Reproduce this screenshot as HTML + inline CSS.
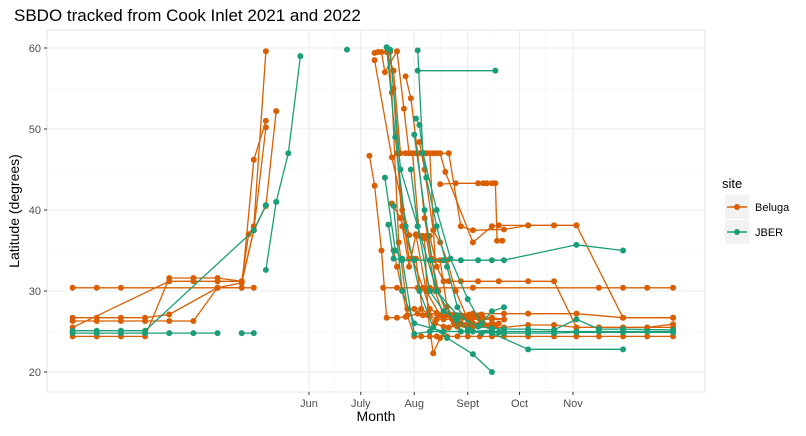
<!DOCTYPE html>
<html><head><meta charset="utf-8">
<style>
body{margin:0;background:#fff;font-family:"Liberation Sans",Arial,sans-serif;}
svg text{font-family:"Liberation Sans",Arial,sans-serif;}
</style></head>
<body>
<svg id="chart" width="806" height="431" xmlns="http://www.w3.org/2000/svg">
<text x="14" y="21" font-size="17" fill="#000">SBDO tracked from Cook Inlet 2021 and 2022</text>
<g id="grid"></g>
<g id="axes"></g>
<g id="marks"></g>
<text x="376" y="421" font-size="14" text-anchor="middle">Month</text>
<text transform="translate(19,211) rotate(-90)" font-size="14" text-anchor="middle">Latitude (degrees)</text>
<g>
<text x="722" y="188" font-size="13">site</text>
<rect x="725" y="195" width="24" height="24" fill="#f2f2f2"/>
<line x1="727" y1="207" x2="747" y2="207" stroke="#D95F02" stroke-width="1.4"/><circle cx="737" cy="207" r="3" fill="#D95F02"/>
<text x="755" y="211" font-size="11">Beluga</text>
<rect x="725" y="220" width="24" height="24" fill="#f2f2f2"/>
<line x1="727" y1="232" x2="747" y2="232" stroke="#1B9E77" stroke-width="1.4"/><circle cx="737" cy="232" r="3" fill="#1B9E77"/>
<text x="755" y="236" font-size="11">JBER</text>
</g>
</svg>
<script>
// ---- data ----
const monthLabels = ["Jun","July","Aug","Sept","Oct","Nov"];
const monthDays = [152,182,213,244,274,305];
const yTicks = [20,30,40,50,60];
const trackSite = ["B","B","B","B","B","J","J","J","J","J",
  "B","B","B","B","B","B","B","B","B","B","B","B","B","B","B","B",
  "J","J","J","J","J","J","J","J","J","J"];
const trackDays = [
  [15,29,43,99,113,120],
  [15,29,43,57,71,99,113,120,127,133],
  [15,29,43,57,71,85,99,113,120,127],
  [15,29,43,57,71,85,99,113,117,120,127],
  [15,71,85,99,113,120,127],
  [15,29,43,57,120,127],
  [15,29,43,57,71,85,99],
  [113,120],
  [127,133,140,147],
  [174],
  [195,203,215,222,247,320,334,348,363],
  [197,201,205,208,212,216,220,224,228,231,247,258,262,279,294,307,334,363],
  [187,190,194,197,203,208,215,226,233,247,265,279,307,334,363],
  [228,237,250,253,255,258,260,261,264],
  [190,192,199,201,206,210,214,218,222,226,230,233,240,250,262,279,294,307,320,334,348,363],
  [194,196,203,207,210,214,219,226,233,240,247,265,279,294,307],
  [198,200,204,209,213,217,221,225,230,238,247,258,265,279,294,307,320,334,348,363],
  [203,206,210,214,218,222,226,230,235,241,247,253,258,265],
  [201,203,206,209,213,217,222,226,232,238,244,251,258,265,279,294,307,320,334,348,363],
  [208,211,215,219,223,227,232,236,242,247,252,258],
  [216,219,224,228,232,237,244,251,258,265],
  [200,205,212,218,222,226,232,238,244,250],
  [219,221,224,228,233,240,247,253,258,262],
  [212,216,220,225,230,234,240,246,252,258],
  [222,225,228,232,238,244,250,256,260],
  [190,200,210,214,220,228,236,245,252],
  [215,260],
  [198,201,206,213,222,230,240,250,258,265,307,334],
  [196,202,206,213,222,240,258,265,279,294,307,320,334,348,363],
  [214,216,220,226,232,238,247,258],
  [215,218,226,234,244,252,258,265],
  [201,206,213,230,244,258,279,334],
  [213,219,226,240,258,265,279,294,307,334,363],
  [197,202,208,216,224,232,247,258],
  [211,215,222,230,238,244,252,262],
  [199,205,215,226,238,250,258,265,279,294,307,320,334,363]
];
const trackLats = [
  [30.4,30.4,30.4,30.4,30.4,30.4],
  [26.7,26.7,26.7,26.7,27.1,30.4,31.0,37.5,40.5,52.2],
  [26.3,26.3,26.3,26.3,26.3,26.3,30.4,30.4,46.2,51.0],
  [24.4,24.4,24.4,24.4,31.6,31.6,31.6,31.2,37.0,38.0,59.6],
  [25.5,31.2,31.2,31.2,31.2,37.5,50.2],
  [25.1,25.1,25.1,25.1,37.5,40.6],
  [24.8,24.8,24.8,24.8,24.8,24.8,24.8],
  [24.8,24.8],
  [32.6,41.0,47.0,59.0],
  [59.8],
  [30.4,30.4,30.4,30.4,30.4,30.4,30.4,30.4,30.4],
  [59.5,57.2,47.0,47.0,47.0,47.0,47.0,47.0,47.0,44.7,36.0,38.0,38.1,38.1,38.1,38.1,26.7,26.7],
  [46.7,43.0,35.0,26.7,26.7,26.8,27.2,27.2,27.2,27.2,27.2,27.2,27.2,26.7,26.7],
  [43.2,43.3,43.3,43.3,43.3,43.3,43.3,36.2,36.2],
  [59.4,59.5,59.5,55.0,38.0,33.0,37.0,36.8,36.8,33.0,31.2,31.2,31.2,31.2,31.2,31.2,31.2,25.5,25.5,25.5,25.5,25.9],
  [59.5,57.0,59.6,52.5,47.0,47.0,47.0,47.0,47.0,38.0,37.5,37.6,38.1,38.1,38.1],
  [59.5,54.5,36.0,27.8,27.8,27.8,27.2,26.0,25.6,25.6,25.6,25.5,25.5,25.8,25.8,25.5,25.5,25.5,25.5,25.5],
  [47.0,40.0,34.0,34.0,27.0,27.0,26.5,26.5,26.5,26.7,26.7,26.7,26.7,26.5],
  [35.0,33.0,30.0,27.0,24.4,24.4,24.4,24.4,24.4,24.4,24.4,24.4,24.4,24.4,24.4,24.4,24.4,24.4,24.4,24.4,24.4],
  [56.5,53.8,47.0,39.0,34.0,30.0,27.0,26.0,25.8,25.8,25.8,25.8],
  [48.4,45.0,37.5,36.0,33.8,30.0,26.5,26.5,26.5,26.5],
  [40.8,39.0,34.0,30.4,27.8,27.3,27.0,27.0,27.0,27.0],
  [36.5,27.0,22.3,24.2,25.5,26.0,26.0,26.0,26.0,26.0],
  [47.0,36.8,36.8,30.0,27.0,27.0,27.0,26.5,26.5,26.5],
  [47.0,33.8,33.8,28.0,26.0,25.8,25.8,25.7,25.8],
  [58.5,46.5,36.9,36.9,30.0,27.0,27.1,27.1,27.1],
  [57.2,57.2],
  [38.2,34.0,33.8,33.8,33.8,33.8,33.8,33.8,33.8,33.8,35.7,35.0],
  [44.0,35.0,34.0,24.7,25.0,25.0,25.0,25.0,25.0,25.0,25.0,25.0,25.0,25.0,25.0],
  [51.3,50.5,44.0,38.0,33.0,28.0,25.0,25.2],
  [59.7,47.0,40.0,34.0,29.0,26.0,27.5,28.0],
  [40.5,30.0,26.0,25.0,25.0,24.8,22.8,22.8],
  [49.3,40.0,30.0,25.0,24.9,24.8,24.8,24.8,24.9,24.9,24.9],
  [60.1,49.0,38.0,30.0,25.5,24.2,22.2,20.0],
  [45.0,38.0,30.0,27.5,26.5,25.2,24.8,24.9],
  [59.8,45.0,38.0,30.0,27.0,25.6,25.4,25.3,25.3,25.2,26.5,25.3,25.3,25.2]
];
// ---- scales ----
const L=47,R=705,T=30,B=392;
const xs=d=>309+(d-152)*(573-309)/(305-152);
const ys=v=>48+(60-v)*(372-48)/40;
const NS="http://www.w3.org/2000/svg";
function mk(p,tag,a){const e=document.createElementNS(NS,tag);for(const k in a)e.setAttribute(k,a[k]);p.appendChild(e);return e;}
const grid=document.getElementById('grid'),axes=document.getElementById('axes'),marks=document.getElementById('marks');
const bg=mk(grid,'rect',{x:L,y:T,width:R-L,height:B-T,fill:'#fff',stroke:'#e3e3e3'});


for(let i=0;i<yTicks.length;i++){
  const y=ys(yTicks[i]);
  mk(grid,'line',{x1:L,x2:R,y1:y,y2:y,stroke:'#ebebeb','stroke-width':1.1});
  if(i<yTicks.length-1){const ym=ys(yTicks[i]+5);mk(grid,'line',{x1:L,x2:R,y1:ym,y2:ym,stroke:'#f3f3f3','stroke-width':0.6});}
  mk(axes,'line',{x1:L-3,x2:L,y1:y,y2:y,stroke:'#333'});
  const t=mk(axes,'text',{x:L-6,y:y+4,'font-size':11,'text-anchor':'end',fill:'#4d4d4d'});
  t.textContent=yTicks[i];
  
  
}
for(let i=0;i<monthDays.length;i++){
  const x=xs(monthDays[i]);
  mk(grid,'line',{x1:x,x2:x,y1:T,y2:B,stroke:'#ebebeb','stroke-width':1.1});
  if(i<monthDays.length-1){const xm=(x+xs(monthDays[i+1]))/2;mk(grid,'line',{x1:xm,x2:xm,y1:T,y2:B,stroke:'#f3f3f3','stroke-width':0.6});}
  mk(axes,'line',{x1:x,x2:x,y1:B,y2:B+3,stroke:'#333'});
  const t=mk(axes,'text',{x:x,y:B+15,'font-size':11,'text-anchor':'middle',fill:'#4d4d4d'});
  t.textContent=monthLabels[i];
  
  
}
const col={B:'#D95F02',J:'#1B9E77'};
for(let k=0;k<trackDays.length;k++){
  const g=mk(marks,'g',{});
  
  
  const c=col[trackSite[k]];
  const pts=trackDays[k].map((d,i)=>xs(d).toFixed(1)+','+ys(trackLats[k][i]).toFixed(1)).join(' ');
  if(trackDays[k].length>1)mk(g,'polyline',{points:pts,fill:'none',stroke:c,'stroke-width':1.3});
  trackDays[k].forEach((d,i)=>{
    const p=mk(g,'circle',{cx:xs(d),cy:ys(trackLats[k][i]),r:3,fill:c});
    
    
  });
}
</script>
</body></html>
